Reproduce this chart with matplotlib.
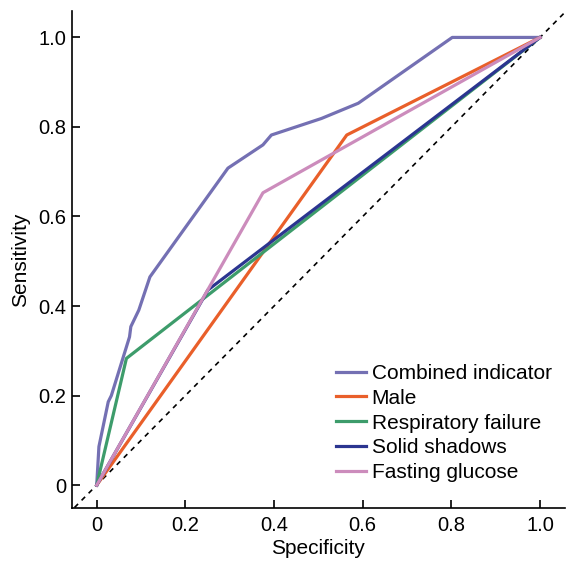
import matplotlib
matplotlib.use('Agg')
import matplotlib.pyplot as plt
from matplotlib.ticker import FuncFormatter

plt.rcParams['font.family'] = ['Liberation Sans', 'DejaVu Sans']

# ROC curves (x = specificity axis, y = sensitivity)
combined_x = [0, 0.005, 0.026, 0.033, 0.074, 0.077, 0.095, 0.12, 0.296, 0.375, 0.394, 0.507, 0.59, 0.802, 1.0]
combined_y = [0, 0.086, 0.186, 0.20, 0.331, 0.354, 0.391, 0.465, 0.708, 0.76, 0.782, 0.819, 0.853, 1.0, 1.0]
male_x = [0, 0.564, 1.0]
male_y = [0, 0.782, 1.0]
resp_x = [0, 0.067, 1.0]
resp_y = [0, 0.283, 1.0]
solid_x = [0, 0.251, 1.0]
solid_y = [0, 0.436, 1.0]
glucose_x = [0, 0.375, 1.0]
glucose_y = [0, 0.653, 1.0]

names = ['Combined indicator', 'Male', 'Respiratory failure', 'Solid shadows', 'Fasting glucose']
colors = ['#7470b3', '#e95f2a', '#3d9c6b', '#2b3590', '#cc8cbc']

fig = plt.figure(figsize=(5.66, 5.65), dpi=100)
ax = fig.add_axes([0.127, 0.101, 0.871, 0.8795])

ax.plot([-0.05, 1.06], [-0.05, 1.06], ls=(0, (3, 3)), color='black', lw=1.2)

curves = [(combined_x, combined_y), (male_x, male_y), (resp_x, resp_y),
          (solid_x, solid_y), (glucose_x, glucose_y)]
for (xs, ys), name, c in zip(curves, names, colors):
    ax.plot(xs, ys, color=c, lw=2.3, label=name)

ax.set_xlim(-0.056, 1.056)
ax.set_ylim(-0.051, 1.059)
ax.set_xticks([0, 0.2, 0.4, 0.6, 0.8, 1.0])
ax.set_yticks([0, 0.2, 0.4, 0.6, 0.8, 1.0])
fmt = FuncFormatter(lambda v, p: '0' if abs(v) < 1e-9 else f'{v:.1f}')
ax.xaxis.set_major_formatter(fmt)
ax.yaxis.set_major_formatter(fmt)
ax.tick_params(direction='in', length=6, width=1.2, labelsize=14.5)
ax.tick_params(axis='x', pad=6)
ax.tick_params(axis='y', pad=4)
for s in ['top', 'right']:
    ax.spines[s].set_visible(False)
for s in ['left', 'bottom']:
    ax.spines[s].set_linewidth(1.2)

ax.set_xlabel('Specificity', fontsize=15, labelpad=3)
ax.set_ylabel('Sensitivity', fontsize=15, labelpad=6)

ax.legend(loc='lower right', bbox_to_anchor=(0.99, 0.035), frameon=False, fontsize=15,
          handlelength=1.45, handletextpad=0.25, labelspacing=0.28, borderaxespad=0)

fig.savefig('out.png', dpi=100)
